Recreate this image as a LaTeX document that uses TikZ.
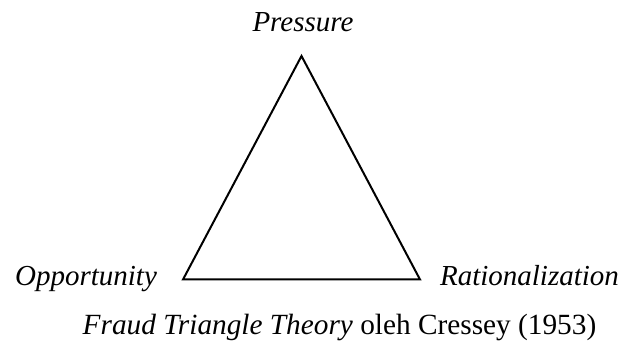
\documentclass[tikz,border=0pt]{standalone}
\usepackage{fontspec}
\setmainfont{Liberation Serif}
\begin{document}
\begin{tikzpicture}[x=1pt,y=-1pt,
  lbl/.style={inner sep=0pt,anchor=base,font=\fontsize{29}{32}\selectfont\itshape},
  captext/.style={inner sep=0pt,anchor=base,font=\fontsize{29.3}{32}\selectfont},
  tri/.style={draw=black,line width=2pt,line join=miter}]
\useasboundingbox[fill=white] (0,0) rectangle (622,342);
\coordinate (A) at (301.5,56);
\coordinate (L) at (183,279.5);
\coordinate (R) at (420,279.5);
\draw[tri] (A) -- (L) -- (R) -- cycle;
\node[lbl] (p) at (303,32) {Pressure};
\node[lbl] (o) at (86,285) {Opportunity};
\node[lbl] (r) at (529.5,286) {Rationalization};
\node[captext] (c) at (339.5,334.5) {\textit{Fraud Triangle Theory} oleh Cressey (1953)};
\end{tikzpicture}
\end{document}
